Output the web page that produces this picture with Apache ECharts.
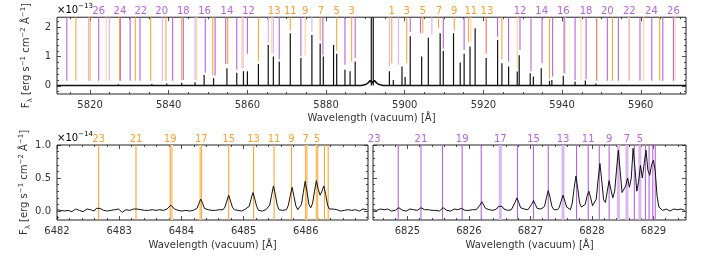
<!DOCTYPE html>
<html><head><meta charset="utf-8">
<script src="https://cdn.jsdelivr.net/npm/echarts@6/dist/echarts.min.js"></script>
<style>html,body{margin:0;padding:0;background:#fff}#c{width:708px;height:260px}</style>
</head><body><div id="c"></div>
<script>
// ---------------- DATA ----------------
// Top panel (units 1e-13)
const topXTicks = [5820,5840,5860,5880,5900,5920,5940,5960];
const topXMinor = [5815,5825,5830,5835,5845,5850,5855,5865,5870,5875,5885,5890,5895,5905,5910,5915,5925,5930,5935,5945,5950,5955,5965,5970];
const topYTicks = [0,1,2];
const topYMinor = [-0.2,0.2,0.4,0.6,0.8,1.2,1.4,1.6,1.8,2.2];
const topBaseline = [[5811.6,0.01],[5889.0,0.01],[5890.0,0.04],[5890.7,0.1],[5891.2,0.18],[5891.75,0.1],[5892.3,0.18],[5892.8,0.1],[5893.5,0.04],[5894.5,0.01],[5971.5,0.01]];
const topSpikes = [[5827.2,0.05],[5835.7,0.06],[5839.5,0.08],[5843.3,0.1],[5846.7,0.12],[5849.0,0.37],[5851.4,0.26],[5854.8,0.6],[5857.3,0.45],[5859.0,0.5],[5860.0,0.5],[5862.8,0.75],[5865.3,1.4],[5866.6,1.0],[5868.1,0.83],[5870.9,1.8],[5873.6,0.95],[5876.4,1.74],[5878.5,1.45],[5879.3,1.0],[5881.9,1.4],[5882.7,1.1],[5884.8,0.55],[5886.1,0.5],[5887.4,0.83],[5891.5,3.0],[5892.0,3.0],[5896.1,0.5],[5897.1,0.2],[5899.3,0.66],[5900.1,0.3],[5901.4,1.7],[5904.3,1.0],[5906.0,1.65],[5909.0,1.8],[5909.8,1.2],[5912.4,1.8],[5914.1,0.8],[5915.1,1.1],[5916.6,1.35],[5917.9,1.97],[5920.7,0.95],[5923.6,1.57],[5924.7,0.77],[5926.4,0.66],[5928.6,0.49],[5929.1,1.05],[5931.9,0.43],[5932.7,0.32],[5934.7,0.6],[5936.8,0.17],[5937.4,0.2],[5940.3,0.34],[5943.3,0.15],[5945.9,0.18],[5948.6,0.08]];
// marker lines [wavelength, lower end]
const topPurple = [[5814.1,0.17],[5822.2,0.17],[5827.7,0.17],[5830.2,0.17],[5832.7,0.17],[5841.0,0.17],[5843.7,0.2],[5849.3,0.45],[5851.8,0.35],[5854.5,0.75],[5857.3,0.55],[5860.0,1.1],[5868.1,0.9],[5873.6,1.0],[5879.2,1.05],[5884.8,0.72],[5887.4,0.95],[5901.4,1.85],[5904.0,1.8],[5909.8,1.28],[5915.1,1.23],[5923.6,1.68],[5926.4,0.83],[5929.3,1.23],[5932.1,0.5],[5934.9,0.77],[5937.6,0.32],[5940.5,0.43],[5943.3,0.2],[5946.1,0.22],[5951.5,0.17],[5954.3,0.17],[5959.8,0.17],[5962.8,0.17],[5965.6,0.17],[5968.3,0.17]];
const topPurpleLight = [[5819.6,0.17],[5824.9,0.17],[5838.4,0.17],[5846.7,0.2],[5858.9,0.6],[5865.3,1.5],[5866.6,1.1],[5876.4,1.85],[5896.1,0.66],[5898.4,0.72],[5906.9,1.75],[5957.1,0.17]];
const topOrange = [[5816.4,0.17],[5820.0,0.17],[5827.5,0.17],[5831.5,0.17],[5835.4,0.17],[5839.3,0.17],[5843.3,0.2],[5851.2,0.35],[5855.0,0.75],[5862.8,0.85],[5870.9,1.9],[5878.5,1.55],[5882.7,1.2],[5886.5,0.83],[5896.7,0.77],[5900.5,0.77],[5904.6,1.8],[5908.6,1.97],[5912.6,1.9],[5916.2,1.5],[5924.7,0.9],[5936.8,0.25],[5952.8,0.17],[5964.8,0.17]];
const topOrangeLight = [[5824.1,0.17],[5847.1,0.2],[5858.6,0.6],[5866.2,1.1],[5874.7,1.05],[5916.8,1.5],[5928.6,0.6],[5940.8,0.4],[5944.8,0.17],[5956.9,0.17],[5960.7,0.17],[5968.7,0.17]];
const topRed = [[5920.7,1.1],[5948.8,0.17]];
const topLabelsPurple = [[5822.2,'26'],[5827.6,'24'],[5832.9,'22'],[5838.2,'20'],[5843.7,'18'],[5849.1,'16'],[5854.8,'14'],[5860.3,'12'],[5929.3,'12'],[5934.8,'14'],[5940.3,'16'],[5946.1,'18'],[5951.5,'20'],[5957.1,'22'],[5962.7,'24'],[5968.3,'26']];
const topLabelsOrange = [[5866.8,'13'],[5870.9,'11'],[5874.7,'9'],[5878.7,'7'],[5882.7,'5'],[5886.5,'3'],[5896.7,'1'],[5900.5,'3'],[5904.6,'5'],[5908.7,'7'],[5912.6,'9'],[5916.8,'11'],[5920.9,'13']];

// Bottom panels (units 1e-14)
const botYTicks = [0,0.5,1.0];
const botYMinor = [-0.1,0.1,0.2,0.3,0.4,0.6,0.7,0.8,0.9];
const blXTicks = [6482,6483,6484,6485,6486];
const blXMinor = [6482.2,6482.4,6482.6,6482.8,6483.2,6483.4,6483.6,6483.8,6484.2,6484.4,6484.6,6484.8,6485.2,6485.4,6485.6,6485.8,6486.2,6486.4,6486.6,6486.8];
const brXTicks = [6825,6826,6827,6828,6829];
const brXMinor = [6824.6,6824.8,6825.2,6825.4,6825.6,6825.8,6826.2,6826.4,6826.6,6826.8,6827.2,6827.4,6827.6,6827.8,6828.2,6828.4,6828.6,6828.8,6829.2,6829.4];

const blStart = 6482.0, blStep = 0.03;
const blFlux = [0.02,0.03,0.01,0.02,0.00,0.03,0.01,0.02,-0.01,0.02,
0.03,0.00,0.01,0.02,-0.01,0.01,0.03,0.00,0.02,0.01,
0.00,0.04,0.06,0.04,0.02,0.01,0.03,0.00,0.02,0.01,
-0.01,0.02,0.01,0.03,0.00,-0.02,0.01,0.02,0.00,0.01,
0.02,0.03,0.05,0.03,0.01,0.02,0.00,0.01,0.03,0.01,
-0.01,0.02,0.00,0.01,0.03,0.02,0.00,0.01,0.02,0.03,
0.06,0.09,0.06,0.03,0.02,0.01,0.03,0.00,0.02,0.01,
0.03,0.00,0.02,0.01,0.00,0.04,0.11,0.18,0.12,0.04,
0.01,0.02,0.00,0.01,0.03,0.01,0.00,0.02,0.01,0.02,
0.06,0.15,0.24,0.15,0.06,0.02,0.00,0.01,0.02,0.00,
0.01,0.03,0.01,0.07,0.18,0.28,0.18,0.07,0.01,0.02,
0.00,0.01,0.02,0.01,0.09,0.24,0.38,0.25,0.09,0.02,
0.00,0.01,0.03,0.02,0.09,0.23,0.36,0.22,0.08,0.02,
0.01,0.10,0.28,0.45,0.29,0.10,0.05,0.12,0.30,0.46,
0.33,0.24,0.30,0.38,0.25,0.09,0.03,0.02,0.03,0.01,
0.02,0.03,0.00,0.02,0.01,0.03,0.02,0.00,0.01,0.03,
0.02,0.01,0.00,0.02,0.03,0.01,0.02];

const brStart = 6824.44, brStep = 0.03;
const brFlux = [0.02,0.03,0.01,0.02,0.03,0.00,0.02,0.01,0.03,0.02,
0.00,0.02,0.01,0.03,0.05,0.03,0.01,0.02,0.00,0.02,
0.03,0.01,0.02,0.00,0.01,0.03,0.05,0.03,0.02,0.01,
0.02,0.00,0.01,0.02,0.01,0.03,0.00,0.03,0.05,0.03,
0.01,0.02,0.00,0.02,0.03,0.01,0.02,0.03,0.04,0.02,
0.01,0.03,0.01,0.00,0.02,0.01,0.02,0.04,0.09,0.14,
0.09,0.04,0.03,0.02,0.03,0.01,0.02,0.03,0.07,0.10,
0.07,0.03,0.02,0.01,0.03,0.02,0.05,0.13,0.20,0.13,
0.05,0.02,0.03,0.01,0.02,0.04,0.10,0.16,0.10,0.04,
0.02,0.03,0.02,0.07,0.20,0.31,0.20,0.07,0.02,0.03,
0.02,0.06,0.15,0.24,0.15,0.06,0.03,0.02,0.12,0.34,
0.53,0.34,0.12,0.06,0.06,0.10,0.22,0.30,0.20,0.08,
0.06,0.18,0.47,0.72,0.46,0.17,0.13,0.30,0.46,0.32,
0.20,0.30,0.62,0.92,0.60,0.28,0.25,0.38,0.50,0.36,
0.50,0.95,0.65,0.30,0.45,0.69,0.50,0.72,0.92,0.62,
0.54,0.70,0.77,0.60,0.22,0.06,0.03,0.01,0.02,0.03,
0.02,0.00,0.02,0.03,0.04,0.02,0.01,0.03,0.02,0.01];

const blOrange = [6482.67,6483.27,6483.82,6484.32,6484.76,6485.16,6485.49,6485.77,6486.0,6486.18,6486.30,6486.36];
const blOrangeLight = [6483.84,6484.31,6486.01,6486.18];
const blLabels = [[6482.67,'23'],[6483.27,'21'],[6483.82,'19'],[6484.32,'17'],[6484.76,'15'],[6485.16,'13'],[6485.49,'11'],[6485.77,'9'],[6486.0,'7'],[6486.18,'5']];
const brPurple = [6824.85,6825.22,6825.57,6825.89,6826.20,6826.79,6827.05,6827.29,6827.75,6827.94,6828.12,6828.28,6828.69,6828.87,6828.93,6828.99,6829.03];
const brPurpleLight = [6826.51,6827.53,6828.43,6828.57,6828.78];
const brLabels = [[6824.46,'23'],[6825.22,'21'],[6825.89,'19'],[6826.51,'17'],[6827.05,'15'],[6827.53,'13'],[6827.94,'11'],[6828.28,'9'],[6828.57,'7'],[6828.78,'5']];

// ---------------- STYLE ----------------
const FONT = 'DejaVu Sans';
const AX = '#222', TXT = '#333';
const C = {purple:'#b465d9', purpleL:'#dbb7ef', orange:'#f8a63c', orangeL:'#fdd6a2', red:'#e5734f',
           labP:'#b365d8', labO:'#f5a030'};
const R = {
  top: {x:[5811.6,5971.5], y:[-0.283,2.35]},
  bl:  {x:[6482,6487], y:[-0.136,1.0]},
  br:  {x:[6824.44,6829.53], y:[-0.136,1.0]}
};

function axis(g, pos, ext, ticks, len, labels, fmt, extra) {
  const a = {
    type:'value', gridIndex:g, position:pos, min:ext[0], max:ext[1],
    axisLine:{show:false, onZero:false}, splitLine:{show:false},
    axisTick:{show:true, inside:true, length:len, customValues:ticks, lineStyle:{color:AX, width:0.8}},
    axisLabel: labels ? {show:true, customValues:ticks, formatter:fmt, color:TXT, fontSize:10, fontFamily:FONT, margin:6}
                      : {show:false}
  };
  return Object.assign(a, extra || {});
}
const yName = '{n|F}{sub|λ} {n|[erg s}{sup|−1}{n| cm}{sup|−2}{n| Å}{sup|−1}{n|]}';
const yRich = {n:{fontSize:10, fontFamily:FONT, color:TXT, lineHeight:14},
               sub:{fontSize:7, fontFamily:FONT, color:TXT, verticalAlign:'bottom'},
               sup:{fontSize:7, fontFamily:FONT, color:TXT, verticalAlign:'top'}};
const xNameStyle = {fontSize:10, fontFamily:FONT, color:TXT};
const xName = 'Wavelength (vacuum) [Å]';
const fmtInt = v => String(v);
const fmt1 = v => v.toFixed(1);

const xAxes = [], yAxes = [];
function addGrid(g, r, xT, xM, yT, yM, yLabels, yfmt, xGap, yGap) {
  xAxes.push(axis(g,'bottom',r.x,xT,4,true,fmtInt,{name:xName, nameLocation:'middle', nameGap:xGap, nameTextStyle:xNameStyle}));
  xAxes.push(axis(g,'bottom',r.x,xM,2,false));
  xAxes.push(axis(g,'top',r.x,xT,4,false));
  xAxes.push(axis(g,'top',r.x,xM,2,false));
  const yExtra = yLabels ? {name:yName, nameLocation:'middle', nameRotate:90, nameGap:yGap, nameTextStyle:{rich:yRich}} : {};
  yAxes.push(axis(g,'left',r.y,yT,4,yLabels,yfmt,yExtra));
  yAxes.push(axis(g,'left',r.y,yM,2,false));
  yAxes.push(axis(g,'right',r.y,yT,4,false));
  yAxes.push(axis(g,'right',r.y,yM,2,false));
}
addGrid(0, R.top, topXTicks, topXMinor, topYTicks, topYMinor, true, fmtInt, 19, 17);
addGrid(1, R.bl, blXTicks, blXMinor, botYTicks, botYMinor, true, fmt1, 20, 17);
addGrid(2, R.br, brXTicks, brXMinor, botYTicks, botYMinor, false, fmt1, 20, 17);

function vlines(g, data, color, width, yTop, z) {
  return {type:'custom', xAxisIndex:g*4, yAxisIndex:g*4, silent:true, z:z, data:data,
    renderItem:(params, api) => {
      const x = api.value(0);
      const p0 = api.coord([x, api.value(1)]);
      const p1 = api.coord([x, yTop]);
      return {type:'line', shape:{x1:p0[0], y1:p0[1], x2:p1[0], y2:p1[1]}, style:{stroke:color, lineWidth:width}};
    }};
}
function spikes(g, data, yTop) {
  return {type:'custom', xAxisIndex:g*4, yAxisIndex:g*4, silent:true, z:5, data:data,
    renderItem:(params, api) => {
      const x = api.value(0);
      const p0 = api.coord([x, 0.01]);
      const p1 = api.coord([x, Math.min(api.value(1), yTop)]);
      return {type:'line', shape:{x1:p0[0], y1:p0[1], x2:p1[0], y2:p1[1]}, style:{stroke:'#111', lineWidth:1.2}};
    }};
}
function labels(g, arr, color, yTop) {
  return {type:'custom', xAxisIndex:g*4, yAxisIndex:g*4, silent:true, z:6,
    data: arr.map(d => [d[0], yTop]),
    renderItem:(params, api) => {
      const p = api.coord([api.value(0), yTop]);
      return {type:'text', x:p[0], y:p[1]-1, style:{text:arr[params.dataIndex][1], fill:color, fontSize:10, fontFamily:FONT, align:'center', verticalAlign:'bottom'}};
    }};
}
function gridded(start, step, flux) { return flux.map((f, i) => [start + i*step, f]); }
function full(list, yMin) { return list.map(x => [x, yMin]); }

const series = [
  // top
  vlines(0, topPurpleLight, C.purpleL, 1.2, R.top.y[1], 2),
  vlines(0, topOrangeLight, C.orangeL, 1.2, R.top.y[1], 2),
  vlines(0, topPurple, C.purple, 1.1, R.top.y[1], 3),
  vlines(0, topOrange, C.orange, 1.1, R.top.y[1], 3),
  vlines(0, topRed, C.red, 1.1, R.top.y[1], 3),
  {type:'line', xAxisIndex:0, yAxisIndex:0, data:topBaseline, symbol:'none', z:5, lineStyle:{color:'#111', width:1.6}},
  spikes(0, topSpikes, R.top.y[1]),
  labels(0, topLabelsPurple, C.labP, R.top.y[1]),
  labels(0, topLabelsOrange, C.labO, R.top.y[1]),
  // bottom left
  vlines(1, full(blOrangeLight, R.bl.y[0]), C.orangeL, 3, R.bl.y[1], 2),
  vlines(1, full(blOrange, R.bl.y[0]), C.orange, 1.1, R.bl.y[1], 3),
  {type:'line', xAxisIndex:4, yAxisIndex:4, data:gridded(blStart, blStep, blFlux), symbol:'none', z:5, lineStyle:{color:'#111', width:1}},
  labels(1, blLabels, C.labO, R.bl.y[1]),
  // bottom right
  vlines(2, full(brPurpleLight, R.br.y[0]), C.purpleL, 3, R.br.y[1], 2),
  vlines(2, full(brPurple, R.br.y[0]), C.purple, 1.1, R.br.y[1], 3),
  {type:'line', xAxisIndex:8, yAxisIndex:8, data:gridded(brStart, brStep, brFlux), symbol:'none', z:5, lineStyle:{color:'#111', width:1}},
  labels(2, brLabels, C.labP, R.br.y[1])
];

const expRich = {a:{fontSize:10, fontFamily:FONT, color:TXT, lineHeight:14}, b:{fontSize:7, fontFamily:FONT, color:TXT, verticalAlign:'top'}};
const option = {
  animation:false,
  backgroundColor:'#fff',
  grid:[
    {left:57, top:17, width:629, height:77, show:true, borderColor:AX, borderWidth:1, backgroundColor:'transparent'},
    {left:57, top:145, width:311, height:75, show:true, borderColor:AX, borderWidth:1, backgroundColor:'transparent'},
    {left:373, top:145, width:313, height:75, show:true, borderColor:AX, borderWidth:1, backgroundColor:'transparent'}
  ],
  xAxis:xAxes, yAxis:yAxes, series:series,
  graphic:[
    {type:'text', left:57, top:3, style:{text:'{a|×10}{b|−13}', rich:expRich}},
    {type:'text', left:57, top:131, style:{text:'{a|×10}{b|−14}', rich:expRich}}
  ]
};
const chart = echarts.init(document.getElementById('c'), null, {renderer:'canvas'});
chart.setOption(option);
</script></body></html>
